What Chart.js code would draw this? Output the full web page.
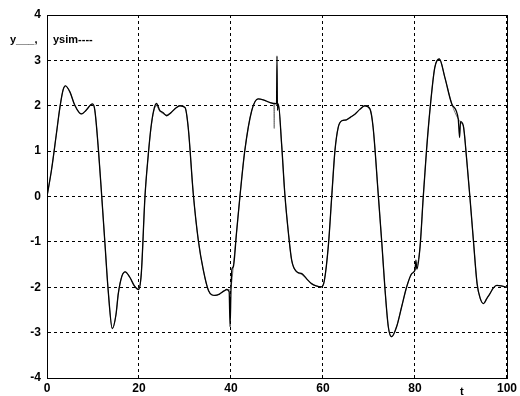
<!DOCTYPE html>
<html>
<head>
<meta charset="utf-8">
<script src="https://cdn.jsdelivr.net/npm/chart.js@4/dist/chart.umd.min.js"></script>
<style>
  html, body { margin: 0; padding: 0; background: #fff; }
  canvas { display: block; }
</style>
</head>
<body>
<canvas id="plot" width="520" height="396"></canvas>
<script>
// time samples
const t = [0, 1, 2, 2.8, 3.5, 4, 5, 6, 7, 7.5, 8.5, 9.5, 9.9, 10.4, 11.2, 11.9, 12.6, 13.3, 14.2, 15,
  15.5, 16.3, 17, 18, 19, 19.9, 20.5, 21.3, 22, 22.6, 23.2, 23.8, 24.5, 25.2, 26, 27, 28, 28.9, 30, 30.7,
  31.8, 32.9, 34, 35.1, 36.5, 37.5, 38.5, 39.1, 39.6, 39.8, 40, 40.2, 40.5, 41.2, 42, 43, 44.5, 45.9, 47, 48.5,
  49.3, 49.4, 49.5, 49.9, 50, 50.1, 50.3, 51, 51.7, 52.5, 53.2, 54.3, 55.4, 56.5, 57.5, 58.5, 59.7, 60.3, 61.2, 61.9,
  62.6, 63.3, 64.1, 65.1, 66, 67, 68, 69.1, 70.2, 70.9, 72, 72.8, 73.5, 74.2, 74.9, 76, 77.1, 78.2, 79.3, 80,
  80.2, 80.4, 81.1, 81.8, 82.5, 83.3, 84.3, 85.3, 86.5, 88, 89.4, 89.7, 89.9, 90.5, 91.2, 92, 92.7, 93.5, 94.2, 94.9,
  95.6, 96.3, 97, 97.8, 98.7, 99.6, 100];

// measured output y
const y = [0, 0.6, 1.35, 1.96, 2.35, 2.44, 2.3, 2.02, 1.85, 1.82, 1.9, 2.02, 2.04, 1.9, 1.0, 0, -1.04, -2.07, -2.91, -2.6,
  -2.14, -1.75, -1.66, -1.78, -1.97, -2.05, -1.7, 0, 0.9, 1.52, 1.9, 2.05, 1.9, 1.85, 1.78, 1.85, 1.95, 2.0, 1.96, 1.52,
  0.06, -0.97, -1.63, -2.07, -2.18, -2.15, -2.08, -2.05, -2.1, -2.87, -2.05, -1.6, -1.55, -0.8, 0.06, 1.01, 1.89, 2.15, 2.13, 2.07,
  2.05, 2.05, 2.05, 2.04, 3.1, 1.9, 2.04, 1.16, 0.06, -0.82, -1.41, -1.66, -1.7, -1.82, -1.92, -1.97, -1.99, -1.85, -1.04, 0,
  1.01, 1.52, 1.67, 1.69, 1.75, 1.82, 1.92, 2.0, 1.93, 1.52, 0.06, -1.04, -2.07, -2.87, -3.09, -2.87, -2.43, -1.99, -1.7, -1.62,
  -1.4, -1.6, -1.11, 0, 1.01, 1.96, 2.84, 3.03, 2.62, 2.04, 1.71, 1.3, 1.65, 1.56, 0.86, -0.09, -0.97, -1.92, -2.25, -2.36,
  -2.25, -2.14, -2.02, -1.96, -1.97, -1.99, -2.0];

// simulated output ysim
const ysim = [0, 0.6, 1.35, 1.96, 2.35, 2.44, 2.3, 2.02, 1.85, 1.82, 1.9, 2.02, 2.03, 1.9, 1.0, 0, -1.04, -2.07, -2.91, -2.6,
  -2.14, -1.75, -1.66, -1.78, -1.97, -2.03, -1.7, 0, 0.9, 1.5, 1.88, 2.0, 1.88, 1.83, 1.8, 1.86, 1.95, 2.0, 1.96, 1.52,
  0.06, -0.97, -1.63, -2.07, -2.18, -2.15, -2.08, -2.05, -2.06, -2.05, -2.0, -1.85, -1.55, -0.8, 0.06, 1.01, 1.89, 2.15, 2.13, 2.07,
  2.05, 1.5, 2.05, 2.04, 2.02, 1.98, 2.0, 1.16, 0.06, -0.82, -1.41, -1.66, -1.72, -1.82, -1.92, -1.97, -1.99, -1.85, -1.04, 0,
  1.01, 1.52, 1.67, 1.69, 1.75, 1.82, 1.92, 2.0, 1.93, 1.52, 0.06, -1.04, -2.07, -2.87, -3.09, -2.87, -2.43, -1.99, -1.7, -1.62,
  -1.6, -1.55, -1.11, 0, 1.01, 1.96, 2.84, 3.03, 2.62, 2.04, 1.71, 1.68, 1.62, 1.56, 0.86, -0.09, -0.97, -1.92, -2.25, -2.36,
  -2.25, -2.14, -2.02, -1.96, -1.97, -1.99, -2.0];

const xTicks = [0, 20, 40, 60, 80, 100];
const yTicks = [-4, -3, -2, -1, 0, 1, 2, 3, 4];

const tickFont = { family: "Liberation Sans", size: 12, weight: "bold" };

// Box, "t" label and the legend-like y label
const decorations = {
  id: "decorations",
  afterDraw(chart) {
    const { ctx, chartArea: a } = chart;
    ctx.save();
    ctx.strokeStyle = "#000";
    ctx.lineWidth = 1;
    ctx.strokeRect(Math.round(a.left) + 0.5, Math.round(a.top) + 0.5,
      Math.round(a.right - a.left), Math.round(a.bottom - a.top));
    ctx.fillStyle = "#000";
    ctx.font = "bold 11px 'Liberation Sans'";
    ctx.textBaseline = "alphabetic";
    ctx.fillText("y___,", 10, 43);
    ctx.fillText("ysim----", 53, 43);
    ctx.fillText("t", 460, 395);
    ctx.restore();
  },
};

const toPoints = (vals) => t.map((tv, i) => ({ x: tv, y: vals[i] }));

new Chart(document.getElementById("plot"), {
  type: "line",
  plugins: [decorations],
  data: {
    datasets: [
      {
        label: "y",
        data: toPoints(y),
        borderColor: "#000",
        borderWidth: 1.3,
        pointRadius: 0,
        cubicInterpolationMode: "monotone",
      },
      {
        label: "ysim",
        data: toPoints(ysim),
        borderColor: "#7a7a7a",
        borderWidth: 1,
        pointRadius: 0,
        cubicInterpolationMode: "monotone",
      },
    ],
  },
  options: {
    responsive: false,
    animation: false,
    layout: { padding: { top: 15, right: 13, left: 0, bottom: 0 } },
    plugins: { legend: { display: false }, tooltip: { enabled: false } },
    scales: {
      x: {
        type: "linear",
        min: 0,
        max: 100,
        afterBuildTicks: (s) => { s.ticks = xTicks.map((v) => ({ value: v })); },
        afterFit: (s) => { s.height = 18; },
        ticks: { color: "#000", font: tickFont, padding: 3, maxRotation: 0 },
        grid: { color: "#000", lineWidth: 1, drawTicks: false },
        border: { color: "#000", dash: [3, 3] },
      },
      y: {
        min: -4,
        max: 4,
        afterBuildTicks: (s) => { s.ticks = yTicks.map((v) => ({ value: v })); },
        afterFit: (s) => { s.width = 47; },
        ticks: { color: "#000", font: tickFont, padding: 6 },
        grid: { color: "#000", lineWidth: 1, drawTicks: false },
        border: { color: "#000", dash: [3, 3] },
      },
    },
  },
});
</script>
</body>
</html>
